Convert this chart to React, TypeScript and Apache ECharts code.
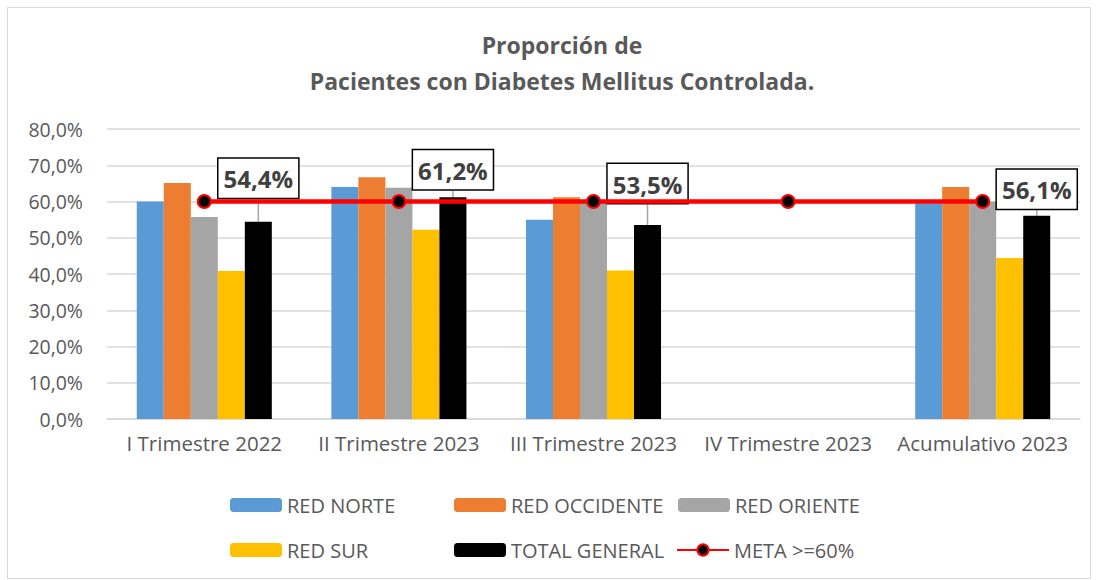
import React, { useEffect, useRef } from "react";
import * as echarts from "echarts";

const categories = [
  "I Trimestre 2022",
  "II Trimestre 2023",
  "III Trimestre 2023",
  "IV Trimestre 2023",
  "Acumulativo 2023",
];
const redNorte = [60.0, 64.0, 55.0, null, 59.5];
const redOccidente = [65.1, 66.7, 61.2, null, 64.0];
const redOriente = [55.7, 63.8, 60.0, null, 60.0];
const redSur = [40.8, 52.2, 41.0, null, 44.4];
const totalGeneral = [54.4, 61.2, 53.5, null, 56.1];
const meta = [60, 60, 60, 60, 60];
const yTicks = [0, 10, 20, 30, 40, 50, 60, 70, 80];

// manual label lift (px) of TOTAL GENERAL data labels, as placed in the original
const labelLift = [20, 4, 18, 0, 3];

const FONT = "Open Sans";
const fmt = (v: number) => v.toFixed(1).replace(".", ",") + "%";

export default function App() {
  const ref = useRef<HTMLDivElement>(null);
  useEffect(() => {
    if (!ref.current) return;
    const chart = echarts.init(ref.current, undefined, { renderer: "svg" });
    const barSeries = (name: string, data: (number | null)[], color: string) => ({
      name,
      type: "bar",
      data,
      barGap: "0%",
      barCategoryGap: "30.6%",
      itemStyle: { color },
    });
    const legendPos = [
      { name: "RED NORTE", left: 230, top: 495 },
      { name: "RED OCCIDENTE", left: 454, top: 495 },
      { name: "RED ORIENTE", left: 678, top: 495 },
      { name: "RED SUR", left: 230, top: 540 },
      { name: "TOTAL GENERAL", left: 454, top: 540 },
      { name: "META >=60%", left: 676, top: 540 },
    ];
    chart.setOption({
      animation: false,
      backgroundColor: "#ffffff",
      title: {
        text: "Proporción de\nPacientes con Diabetes Mellitus Controlada.",
        left: 557,
        top: 22,
        textAlign: "center",
        textStyle: {
          fontFamily: FONT,
          fontSize: 23,
          fontWeight: "bold",
          color: "#595959",
          lineHeight: 36,
        },
      },
      graphic: [
        {
          type: "rect",
          shape: { x: 7.5, y: 7.5, width: 1083, height: 571 },
          style: { fill: "none", stroke: "#d9d9d9", lineWidth: 1 },
          silent: true,
        },
      ],
      legend: legendPos.map((p) => ({
        data: [p.name],
        left: p.left,
        top: p.top,
        padding: 0,
        itemWidth: 52,
        itemHeight: 14,
        itemGap: 0,
        textStyle: { fontFamily: FONT, fontSize: 20, color: "#595959", padding: [0, 0, 0, 0] },
        selectedMode: false,
      })),
      grid: { left: 107, right: 19, top: 129, bottom: 161, containLabel: false },
      xAxis: {
        type: "category",
        data: categories,
        axisLine: { show: true, lineStyle: { color: "#d9d9d9", width: 1.5 } },
        axisTick: { show: false },
        axisLabel: {
          interval: 0,
          fontFamily: FONT,
          fontSize: 20.5,
          color: "#595959",
          margin: 13,
        },
      },
      yAxis: {
        type: "value",
        min: yTicks[0],
        max: yTicks[yTicks.length - 1],
        interval: 10,
        axisLine: { show: false },
        axisTick: { show: false },
        splitLine: { lineStyle: { color: "#d9d9d9", width: 1.5 } },
        axisLabel: {
          fontFamily: FONT,
          fontSize: 19.5,
          color: "#595959",
          margin: 24,
          formatter: (v: number) => fmt(v),
        },
      },
      series: [
        barSeries("RED NORTE", redNorte, "#5B9BD5"),
        barSeries("RED OCCIDENTE", redOccidente, "#ED7D31"),
        barSeries("RED ORIENTE", redOriente, "#A5A5A5"),
        barSeries("RED SUR", redSur, "#FFC000"),
        {
          ...barSeries("TOTAL GENERAL", totalGeneral, "#000000"),
          z: 3,
          label: {
            show: true,
            position: "top",
            distance: 4,
            formatter: (p: any) => fmt(p.value),
            fontFamily: FONT,
            fontSize: 24,
            fontWeight: "bold",
            color: "#404040",
            backgroundColor: "#ffffff",
            borderColor: "#000000",
            borderWidth: 1.5,
            padding: [4, 5, 3, 5],
            lineHeight: 32,
          },
          labelLayout: (params: any) => ({ dy: -labelLift[params.dataIndex] }),
          labelLine: { show: true, lineStyle: { color: "#a5a5a5", width: 1.5 } },
        },
        {
          name: "META >=60%",
          type: "line",
          data: meta,
          z: 5,
          symbol: "circle",
          symbolSize: 13,
          lineStyle: { color: "#FF0000", width: 4.5 },
          itemStyle: { color: "#000000", borderColor: "#FF0000", borderWidth: 2 },
        },
      ],
    });
    return () => chart.dispose();
  }, []);
  return (
    <div
      ref={ref}
      style={{ position: "fixed", left: 0, top: 0, width: 1099, height: 580 }}
    />
  );
}
